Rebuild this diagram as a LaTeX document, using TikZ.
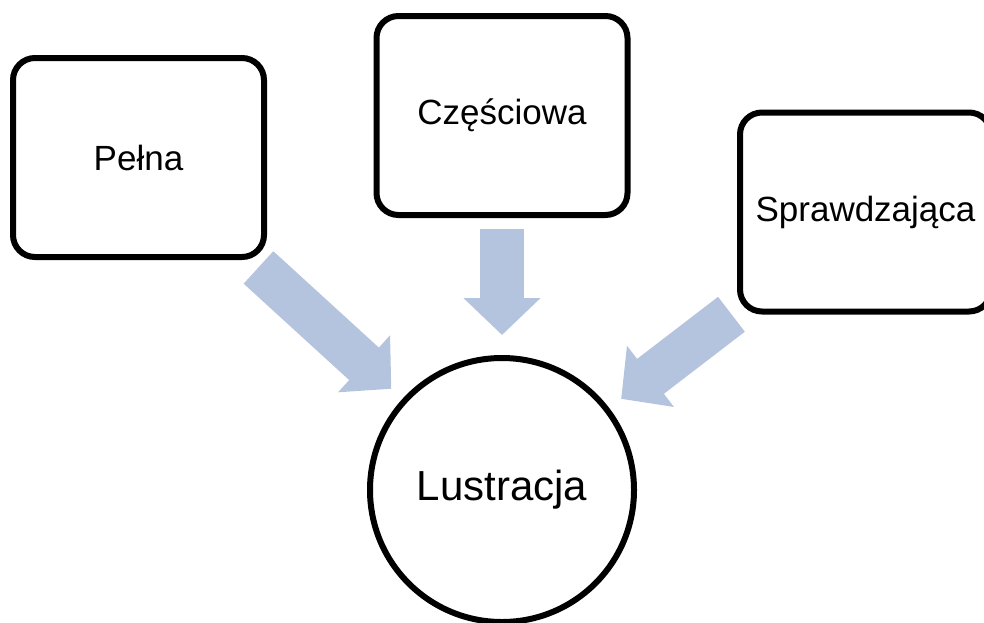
\documentclass[tikz,border=0pt]{standalone}
\usepackage{fontspec}
\setmainfont{Liberation Sans}
\usetikzlibrary{arrows.meta, positioning}

\definecolor{arrowblue}{RGB}{180,196,222}

\tikzset{
  rodzaj/.style={draw, line width=6pt, rounded corners=22pt, minimum width=251pt, minimum height=199pt, font=\fontsize{35}{40}\selectfont},
  glowny/.style={draw, circle, line width=6pt, minimum size=264pt, font=\fontsize{42}{50}\selectfont},
  strzalka/.style={draw=arrowblue, line width=44pt, -{Triangle[length=37pt, width=75pt]}}
}

\begin{document}
\begin{tikzpicture}[x=1pt, y=-1pt]
    \useasboundingbox (0,0) rectangle (984,622);
    \node[glowny] (lus) at (502,490) {Lustracja};
    \node[rodzaj] (pelna) at (138.5,157.5) {Pełna};
    \node[rodzaj] (czesc) at (502,115.5) {Częściowa};
    \node[rodzaj] (spr) at (865.5,212) {Sprawdzająca};
    \draw[strzalka, shorten <=11pt, shorten >=15pt] (pelna) -- (lus);
    \draw[strzalka, shorten <=11pt, shorten >=20pt] (czesc) -- (lus);
    \draw[strzalka, shorten <=7pt, shorten >=15pt] (spr) -- (lus);
\end{tikzpicture}
\end{document}
